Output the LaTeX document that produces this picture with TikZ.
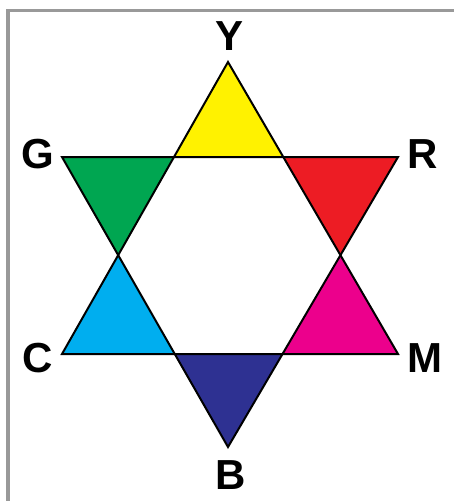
\documentclass[tikz,border=0pt]{standalone}
\usepackage{fontspec}
\setmainfont{Liberation Sans}
\definecolor{StarYellow}{HTML}{FFF200}
\definecolor{StarRed}{HTML}{ED1C24}
\definecolor{StarMagenta}{HTML}{EC008C}
\definecolor{StarBlue}{HTML}{2E3192}
\definecolor{StarCyan}{HTML}{00AEEF}
\definecolor{StarGreen}{HTML}{00A651}
\definecolor{FrameGray}{HTML}{999999}
\usetikzlibrary{calc}
\tikzset{
    % Filled corner triangles
    wedge/.style={
        draw=none
    },
    wedge yellow/.style={wedge, fill=StarYellow},
    wedge red/.style={wedge, fill=StarRed},
    wedge magenta/.style={wedge, fill=StarMagenta},
    wedge blue/.style={wedge, fill=StarBlue},
    wedge cyan/.style={wedge, fill=StarCyan},
    wedge green/.style={wedge, fill=StarGreen},
    star outline/.style={
        draw=black,
        line width=2pt,
        line join=miter
    },
    colour label/.style={
        inner sep=0pt,
        font=\fontsize{42}{42}\selectfont\bfseries
    },
    frame line/.style={
        draw=FrameGray,
        line width=3.5pt
    }
}

\begin{document}
\begin{tikzpicture}[x=1pt, y=-1pt]
    \useasboundingbox (0,0) rectangle (453,501);
    \draw[frame line] (8,505) -- (8,10.5) -- (460,10.5);

    % Corners of the two big triangles
    \coordinate (up top) at (228,62);
    \coordinate (up left) at (62,354);
    \coordinate (up right) at (398,354);
    \coordinate (down left) at (62,157);
    \coordinate (down right) at (398,157);
    \coordinate (down bot) at (228,447);

    % Crossings of the edges
    \coordinate (x tl) at (intersection of up top--up left and down left--down right);
    \coordinate (x tr) at (intersection of up top--up right and down left--down right);
    \coordinate (x l) at (intersection of up top--up left and down left--down bot);
    \coordinate (x r) at (intersection of up top--up right and down right--down bot);
    \coordinate (x bl) at (intersection of up left--up right and down left--down bot);
    \coordinate (x br) at (intersection of up left--up right and down right--down bot);

    \fill[wedge yellow] (up top) -- (x tl) -- (x tr) -- cycle;
    \fill[wedge red] (x tr) -- (down right) -- (x r) -- cycle;
    \fill[wedge magenta] (x r) -- (up right) -- (x br) -- cycle;
    \fill[wedge blue] (x br) -- (down bot) -- (x bl) -- cycle;
    \fill[wedge cyan] (x bl) -- (up left) -- (x l) -- cycle;
    \fill[wedge green] (x l) -- (down left) -- (x tl) -- cycle;

    \draw[star outline] (up top) -- (up left) -- (up right) -- cycle;
    \draw[star outline] (down left) -- (down right) -- (down bot) -- cycle;

    \node[colour label] (Y) at (230,36) {Y};
    \node[colour label] (R) at (423,154) {R};
    \node[colour label] (M) at (425,358) {M};
    \node[colour label] (B) at (231,475) {B};
    \node[colour label] (C) at (38,358) {C};
    \node[colour label] (G) at (38,154) {G};
\end{tikzpicture}
\end{document}
